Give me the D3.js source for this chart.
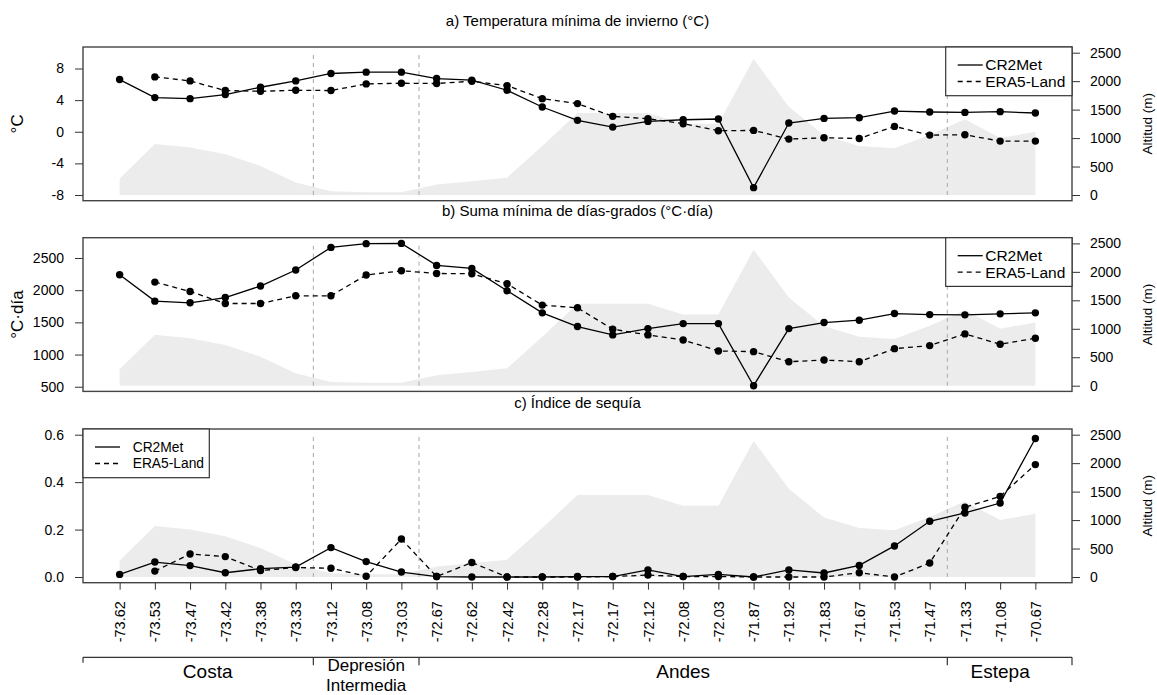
<!DOCTYPE html>
<html>
<head>
<meta charset="utf-8">
<script src="https://cdn.jsdelivr.net/npm/d3@7"></script>
<style>
  body { margin: 0; background: #fff; }
  text { font-family: "Liberation Sans", Arial, sans-serif; fill: #000; }
</style>
</head>
<body>
<svg id="chart" width="1157" height="695"></svg>
<script>
// ---------- DATA ----------
const longitudes = ["-73.62","-73.53","-73.47","-73.42","-73.38","-73.33","-73.12","-73.08","-73.03","-72.67","-72.62","-72.42","-72.28","-72.17","-72.17","-72.12","-72.08","-72.03","-71.87","-71.92","-71.83","-71.67","-71.53","-71.47","-71.33","-71.08","-70.67"];
const altitud = [290, 895, 835, 715, 510, 220, 65, 50, 50, 185, 240, 305, 860, 1440, 1440, 1440, 1250, 1250, 2390, 1550, 1045, 860, 820, 1055, 1330, 1000, 1110];

const tminCR2 = [6.60, 4.32, 4.19, 4.70, 5.63, 6.43, 7.37, 7.54, 7.54, 6.73, 6.52, 5.25, 3.13, 1.44, 0.59, 1.31, 1.52, 1.61, -7.07, 1.10, 1.69, 1.78, 2.62, 2.50, 2.45, 2.54, 2.37];
const tminERA = [null, 6.94, 6.43, 5.21, 5.12, 5.25, 5.21, 6.05, 6.14, 6.10, 6.39, 5.84, 4.19, 3.56, 1.95, 1.65, 1.02, 0.13, 0.17, -0.93, -0.76, -0.85, 0.68, -0.42, -0.38, -1.18, -1.18];

const gddCR2 = [2240, 1830, 1804, 1886, 2064, 2313, 2665, 2723, 2727, 2385, 2338, 1991, 1648, 1435, 1305, 1403, 1481, 1481, 516, 1403, 1497, 1534, 1637, 1621, 1617, 1632, 1648];
const gddERA = [null, 2126, 1980, 1793, 1793, 1913, 1913, 2235, 2302, 2260, 2255, 2100, 1768, 1726, 1394, 1305, 1227, 1056, 1045, 889, 915, 889, 1092, 1139, 1321, 1160, 1254];

const seqCR2 = [0.011, 0.063, 0.048, 0.018, 0.035, 0.042, 0.124, 0.065, 0.021, 0.002, 0.000, 0.000, 0.000, 0.002, 0.002, 0.030, 0.002, 0.011, 0.000, 0.030, 0.017, 0.049, 0.131, 0.235, 0.270, 0.312, 0.584];
const seqERA = [null, 0.025, 0.097, 0.086, 0.027, 0.040, 0.037, 0.003, 0.160, 0.002, 0.061, 0.000, 0.000, 0.000, 0.002, 0.008, 0.002, 0.002, 0.000, 0.000, 0.000, 0.018, 0.000, 0.059, 0.294, 0.340, 0.474];

const tminTicks = [-8, -4, 0, 4, 8];
const gddTicks = [500, 1000, 1500, 2000, 2500];
const seqTicks = [0, 0.2, 0.4, 0.6];
const altTicks = [0, 500, 1000, 1500, 2000, 2500];

const seriesNames = ["CR2Met", "ERA5-Land"];
const titles = ["a) Temperatura mínima de invierno (°C)", "b) Suma mínima de días-grados (°C·día)", "c) Índice de sequía"];
const yLabels = ["°C", "°C·día", ""];
const altLabel = "Altitud (m)";

const regions = ["Costa", "Depresión\nIntermedia", "Andes", "Estepa"];
const regionBounds = [[0, 5], [6, 8], [9, 23], [24, 26]]; // station index ranges

// ---------- LAYOUT ----------
const svg = d3.select("#chart");
const L = 83, R = 1072;
const n = longitudes.length;
const pad = (lo, hi) => { const p = (hi - lo) * 0.04; return [lo - p, hi + p]; };
const x = d3.scaleLinear().domain(pad(0, n - 1)).range([L, R]);

const gddAll = gddCR2.concat(gddERA.filter(v => v != null));
const panels = [
  { top: 47, cr2: tminCR2, era: tminERA, ylim: pad(-8, 10), ticks: tminTicks, fmt: d => d,
    legend: { side: "right", fs: 15.5, tx: 39.5 } },
  { top: 237.7, cr2: gddCR2, era: gddERA, ylim: pad(d3.min(gddAll), d3.max(gddAll)), ticks: gddTicks, fmt: d => d,
    legend: { side: "right", fs: 15.5, tx: 39.5 } },
  { top: 429, cr2: seqCR2, era: seqERA, ylim: pad(0, 0.6), ticks: seqTicks, fmt: d3.format(".1f"),
    legend: { side: "left", fs: 13.8, tx: 49.7 } }
];
const PH = 153.7;
const seps = [5.5, 8.5, 23.5];

const font = "Liberation Sans, Arial, sans-serif";

panels.forEach((p, k) => {
  const g = svg.append("g");
  const y = d3.scaleLinear().domain(p.ylim).range([p.top + PH, p.top]);
  const ya = d3.scaleLinear().domain(pad(0, 2500)).range([p.top + PH, p.top]);

  // altitude area
  const area = d3.area().x((d, i) => x(i)).y0(ya(0)).y1(d => ya(d));
  g.append("path").datum(altitud).attr("d", area).attr("fill", "#ececec");

  // region separators
  seps.forEach(s => {
    g.append("line").attr("x1", x(s)).attr("x2", x(s))
      .attr("y1", ya(0)).attr("y2", ya(2500))
      .attr("stroke", "#a8a8a8").attr("stroke-width", 1).attr("stroke-dasharray", "4,4");
  });

  // series
  const line = d3.line().defined(d => d != null).x((d, i) => x(i)).y(d => y(d));
  g.append("path").datum(p.cr2).attr("d", line).attr("fill", "none")
    .attr("stroke", "#000").attr("stroke-width", 1.3);
  g.append("path").datum(p.era).attr("d", line).attr("fill", "none")
    .attr("stroke", "#000").attr("stroke-width", 1.3).attr("stroke-dasharray", "5,4");
  [p.cr2, p.era].forEach(arr => {
    g.selectAll(null).data(arr.map((v, i) => ({ v, i })).filter(d => d.v != null))
      .enter().append("circle")
      .attr("cx", d => x(d.i)).attr("cy", d => y(d.v)).attr("r", 3.7).attr("fill", "#000");
  });

  // axes
  const la = g.append("g").attr("transform", `translate(${L},0)`)
    .call(d3.axisLeft(y).tickValues(p.ticks).tickFormat(p.fmt).tickSize(8).tickSizeOuter(0).tickPadding(11));
  la.select(".domain").remove();
  la.selectAll("text").style("font-size", "14px").style("font-family", font);
  la.selectAll("line").attr("stroke", "#333");

  const ra = g.append("g").attr("transform", `translate(${R},0)`)
    .call(d3.axisRight(ya).tickValues(altTicks).tickFormat(d3.format("d")).tickSize(8).tickSizeOuter(0).tickPadding(10));
  ra.select(".domain").remove();
  ra.selectAll("text").style("font-size", "14px").style("font-family", font);
  ra.selectAll("line").attr("stroke", "#333");

  // frame
  g.append("rect").attr("x", L).attr("y", p.top).attr("width", R - L).attr("height", PH)
    .attr("fill", "none").attr("stroke", "#444").attr("stroke-width", 1.4);

  // title
  g.append("text").attr("x", (L + R) / 2).attr("y", p.top - 21.5)
    .attr("text-anchor", "middle").style("font-size", "15px").text(titles[k]);

  // y labels
  if (yLabels[k]) {
    g.append("text").attr("transform", `translate(23,${p.top + PH / 2}) rotate(-90)`)
      .attr("text-anchor", "middle").style("font-size", "17px").text(yLabels[k]);
  }
  g.append("text").attr("transform", `translate(1152,${p.top + PH / 2}) rotate(-90)`)
    .attr("text-anchor", "middle").style("font-size", "13.5px").text(altLabel);

  // legend
  const lw = 126.3, lh = 48.7;
  const lx = p.legend.side === "right" ? R - lw : L;
  const lg = g.append("g").attr("transform", `translate(${lx},${p.top})`);
  lg.append("rect").attr("width", lw).attr("height", lh).attr("fill", "#fff")
    .attr("stroke", "#333").attr("stroke-width", 1.2);
  seriesNames.forEach((nm, j) => {
    const yy = 18 + j * 16.5;
    lg.append("line").attr("x1", 12).attr("x2", 37).attr("y1", yy).attr("y2", yy)
      .attr("stroke", "#000").attr("stroke-width", 1.3)
      .attr("stroke-dasharray", j === 1 ? "5,4" : null);
    lg.append("text").attr("x", p.legend.tx).attr("y", yy).attr("dy", "0.35em")
      .style("font-size", p.legend.fs + "px").text(nm);
  });

  // bottom axis on last panel
  if (k === panels.length - 1) {
    const ba = g.append("g").attr("transform", `translate(0,${p.top + PH})`)
      .call(d3.axisBottom(x).tickValues(d3.range(n)).tickFormat(i => longitudes[i]).tickSize(7).tickSizeOuter(0));
    ba.select(".domain").remove();
    ba.selectAll("line").attr("stroke", "#333");
    ba.selectAll("text")
      .attr("transform", "rotate(-90)")
      .attr("x", -18.5).attr("y", 0).attr("dy", "0.35em")
      .style("text-anchor", "end").style("font-size", "14.5px").style("font-family", font);
  }
});

// region bracket
const by = 657.3;
const bg = svg.append("g");
bg.append("line").attr("x1", x.range()[0]).attr("x2", x.range()[1]).attr("y1", by).attr("y2", by)
  .attr("stroke", "#333").attr("stroke-width", 1.2);
const bTicks = [x.domain()[0]].concat(seps, [x.domain()[1]]);
bTicks.forEach((t, i) => {
  bg.append("line").attr("x1", x(t)).attr("x2", x(t)).attr("y1", by).attr("y2", by + (i === 0 ? 5.5 : 8))
    .attr("stroke", "#333").attr("stroke-width", 1.2);
});
regions.forEach((r, i) => {
  const cx = x(d3.mean(regionBounds[i]));
  const lines = r.split("\n");
  if (lines.length === 1) {
    bg.append("text").attr("x", cx).attr("text-anchor", "middle").style("font-size", "19px")
      .attr("y", 671).attr("dy", "0.35em").text(r);
  } else {
    lines.forEach((ln, j) => {
      bg.append("text").attr("x", cx).attr("text-anchor", "middle").style("font-size", "17px")
        .attr("y", 665.5 + j * 19.5).attr("dy", "0.35em").text(ln);
    });
  }
});
</script>
</body>
</html>
